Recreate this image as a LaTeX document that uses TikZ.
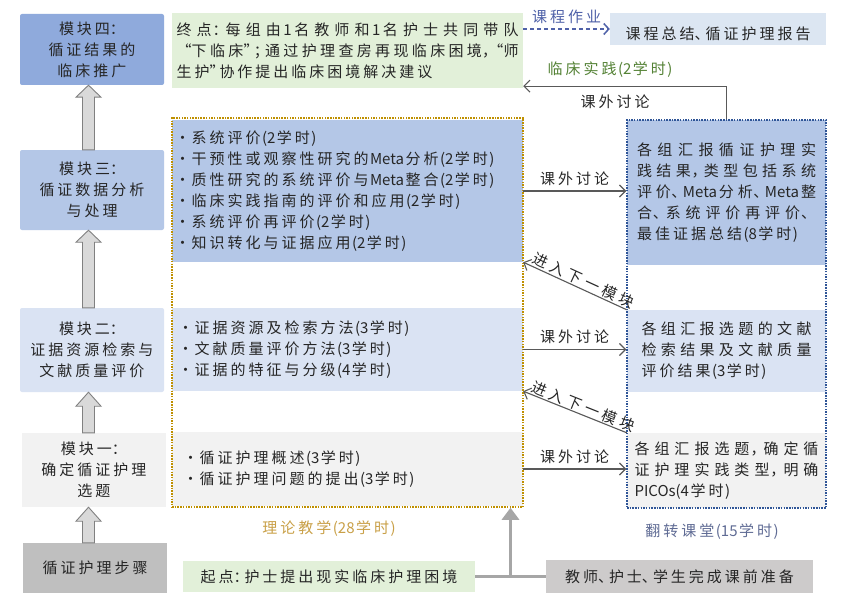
\documentclass[tikz,border=0pt]{standalone}
\usepackage{fontspec}
\setmainfont{Noto Sans CJK SC}
\usetikzlibrary{arrows.meta,calc}
\XeTeXinterchartokenstate=1
\newXeTeXintercharclass\cjkcls
\newXeTeXintercharclass\pcls
\newXeTeXintercharclass\qocls
\newXeTeXintercharclass\qccls
\newcount\cjkcnt
\cjkcnt="4E00
\loop\XeTeXcharclass\cjkcnt=\cjkcls\relax\advance\cjkcnt by 1\relax\ifnum\cjkcnt<"A000 \repeat
\XeTeXcharclass"3001=\pcls
\XeTeXcharclass"FF0C=\pcls
\XeTeXcharclass"FF1A=\pcls
\XeTeXcharclass"FF1B=\pcls
\XeTeXcharclass"201C=\qocls
\XeTeXcharclass"201D=\qccls
\XeTeXinterchartoks\cjkcls\cjkcls={\hskip 3pt plus 4pt minus 2pt\relax}
\XeTeXinterchartoks 0 \cjkcls={\hskip 1.5pt plus 2pt minus 1pt\relax}
\XeTeXinterchartoks\cjkcls 0 ={\hskip 1.5pt plus 2pt minus 1pt\relax}
\XeTeXinterchartoks\cjkcls\pcls={\hskip 0pt plus 2pt\relax}
\XeTeXinterchartoks\pcls\cjkcls={\hskip -4pt plus 4pt\relax}
\XeTeXinterchartoks\pcls 0 ={\hskip -4pt plus 2pt\relax}
\XeTeXinterchartoks\cjkcls\qocls={\hskip -5pt plus 2pt\relax}
\XeTeXinterchartoks\pcls\qocls={\hskip -9pt plus 2pt\relax}
\XeTeXinterchartoks\qocls\cjkcls={\hskip 0pt plus 2pt\relax}
\XeTeXinterchartoks\cjkcls\qccls={\hskip 0pt plus 2pt\relax}
\XeTeXinterchartoks\qccls\cjkcls={\hskip -5pt plus 2pt\relax}
\XeTeXinterchartoks\qccls\pcls={\hskip -5pt plus 2pt\relax}
\newcommand\fs{\fontsize{15pt}{21pt}\selectfont}
\newcommand\jl[2]{\leavevmode\hbox to #1{#2}}
\newcommand\lsp{\hspace{4pt}}
\definecolor{cfour}{HTML}{8FAADC}
\definecolor{cthree}{HTML}{B4C7E7}
\definecolor{ctwo}{HTML}{DAE3F3}
\definecolor{cone}{HTML}{F2F2F2}
\definecolor{cstep}{HTML}{BFBFBF}
\definecolor{cgreen}{HTML}{E2F0D9}
\definecolor{csum}{HTML}{DCE6F2}
\definecolor{cprep}{HTML}{CDCBCB}
\definecolor{corange}{HTML}{BF9000}
\definecolor{cblue}{HTML}{2F5597}
\definecolor{cgrayarrow}{HTML}{595959}
\definecolor{cbig}{HTML}{A6A6A6}
\definecolor{cblkfill}{HTML}{D9D9D9}
\definecolor{cblkdraw}{HTML}{808080}
\definecolor{cdash}{HTML}{4F61A8}
\definecolor{cgreentxt}{HTML}{548235}
\definecolor{corangetxt}{HTML}{C9A047}
\definecolor{cfliptxt}{HTML}{5F6B94}
\definecolor{ctxt}{HTML}{262626}
\tikzset{
  lbox/.style={minimum width=144pt, inner sep=0pt, align=center, text=ctxt},
  wide/.style={minimum width=351pt, align=left, text=ctxt},
  rfill/.style={minimum width=199pt, align=left, text=ctxt},
  blk/.style={fill=cblkfill, draw=cblkdraw, line width=0.9pt},
  garrow/.style={draw=cgrayarrow, line width=1.1pt, -{Straight Barb[length=6pt,width=12pt]}},
  garrowrev/.style={draw=cgrayarrow, line width=1.1pt, {Straight Barb[length=6pt,width=12pt]}-},
  dasharrow/.style={draw=cdash, line width=1.5pt, dash pattern=on 4pt off 3pt, -{Straight Barb[length=5pt,width=11pt]}},
  lab/.style={text=ctxt, inner sep=2pt}
}
\newcommand\blockup[3]{%
  \path[blk] let \p1=(#1.north), \p2=(#2.south) in
  (82.5pt,\y1) -- (82.5pt,{\y2-#3}) -- (76pt,{\y2-#3}) -- (88.5pt,\y2) -- (101pt,{\y2-#3}) -- (94.5pt,{\y2-#3}) -- (94.5pt,\y1) -- cycle;}
\begin{document}
\begin{tikzpicture}[x=1pt,y=-1pt,font=\fs]
\useasboundingbox (0,0) rectangle (844,602);
\fill[white] (0,0) rectangle (844,602);

% left column
\node[lbox, fill=cfour, rounded corners=2pt, minimum height=71pt] (m4) at (92,49.5) {模块四：\\循证结果的\\临床推广};
\node[lbox, fill=cthree, rounded corners=2pt, minimum height=80pt] (m3) at (92,190) {模块三：\\循证数据分析\\与处理};
\node[lbox, fill=ctwo, rounded corners=2pt, minimum height=84pt] (m2) at (92,350) {模块二：\\证据资源检索与\\文献质量评价};
\node[lbox, fill=cone, minimum height=74pt] (m1) at (94,470) {模块一：\\确定循证护理\\选题};
\node[lbox, fill=cstep, minimum height=50pt] (step0) at (95,568) {循证护理步骤};

\blockup{m3}{m4}{12pt}
\blockup{m2}{m3}{12pt}
\blockup{m1}{m2}{14pt}
\blockup{step0}{m1}{14pt}

% goal box
\node[wide, fill=cgreen, minimum height=75pt, inner xsep=4.5pt, inner ysep=0pt, text width=342pt] (goal) at (347.5,50.5)
  {\jl{342pt}{终点：每组由1名教师和1名护士共同带队}\\\jl{342pt}{“下临床”；通过护理查房再现临床困境，“师}\\生护”协作提出临床困境解决建议};

% summary
\node[fill=csum, minimum width=216pt, minimum height=32pt, inner sep=0pt] (sumbox) at (718,29) {};
\node[text=ctxt, inner sep=0pt] (sumtxt) at (718,34) {课程总结、循证护理报告};
\draw[dasharrow] (goal.east |- sumbox.west) -- (sumbox.west) node[midway, above=5pt, text=cdash, inner sep=0pt] (hwlab) {课程作业};

% theory column
\node[wide, fill=cthree, minimum height=142pt, inner xsep=3pt, inner ysep=0pt, text width=345pt] (t3) at (347.5,191)
  {·系统评价(2学时)\\·干预性或观察性研究的Meta分析(2学时)\\·质性研究的系统评价与Meta整合(2学时)\\·临床实践指南的评价和应用(2学时)\\·系统评价再评价(2学时)\\·知识转化与证据应用(2学时)};
\node[wide, fill=ctwo, minimum height=83pt, inner xsep=6pt, inner ysep=0pt, text width=339pt] (t2) at (347.5,349.5)
  {·证据资源及检索方法(3学时)\\·文献质量评价方法(3学时)\\·证据的特征与分级(4学时)};
\node[wide, fill=cone, minimum height=74pt, inner xsep=11pt, inner ysep=0pt, text width=329pt] (t1) at (347.5,469)
  {·循证护理概述(3学时)\\·循证护理问题的提出(3学时)};
\node[draw=corange, line width=1.5pt, dash pattern=on 1.5pt off 1.2pt, minimum width=351pt, minimum height=389pt, inner sep=0pt] (theory) at (347.5,312.5) {};

% flipped column
\node[rfill, fill=cthree, minimum height=145pt, inner xsep=10pt, inner ysep=0pt, text width=179pt] (r3) at (726.5,192.5)
  {\jl{179pt}{各组汇报循证护理实}\\\jl{179pt}{践结果，类型包括系统}\\\jl{179pt}{评价、Meta分析、Meta整}\\\jl{179pt}{合、系统评价再评价、}\\最佳证据总结(8学时)};
\node[rfill, fill=ctwo, minimum height=82pt, inner xsep=14.5pt, inner ysep=0pt, text width=170pt] (r2) at (726.5,351)
  {\jl{170pt}{各组汇报选题的文献}\\\jl{170pt}{检索结果及文献质量}\\评价结果(3学时)};
\node[rfill, fill=cone, minimum height=75pt, inner xsep=7.5pt, inner ysep=0pt, text width=184pt] (r1) at (726.5,470.5)
  {\jl{184pt}{各组汇报选题，确定循}\\\jl{184pt}{证护理实践类型，明确}\\PICOs(4学时)};
\node[draw=cblue, line width=1.5pt, dash pattern=on 1.5pt off 1.2pt, minimum width=199pt, minimum height=388pt, inner sep=0pt] (rbox) at (726.5,314) {};

% discussion arrows
\draw[garrow] (t3.east) -- (t3.east -| rbox.west) node[midway, above=3pt, lab] (d3) {课外讨论};
\draw[garrow] (t2.east) -- (t2.east -| rbox.west) node[midway, above=3pt, lab] (d2) {课外讨论};
\draw[garrow] (t1.east) -- (t1.east -| rbox.west) node[midway, above=3pt, lab] (d1) {课外讨论};

% next module arrows
\draw[garrowrev] (t3.south east) -- (r2.north west) node[pos=0.55, above=0pt, sloped, inner sep=1pt, text=ctxt] (n2) {进\lsp 入\lsp 下\lsp 一\lsp 模\lsp 块};
\draw[garrowrev] (t2.south east) -- (r1.north west) node[pos=0.55, above=0pt, sloped, inner sep=1pt, text=ctxt] (n1) {进\lsp 入\lsp 下\lsp 一\lsp 模\lsp 块};

% practice arrow
\draw[garrow] (rbox.north) |- ([yshift=2pt]goal.south east);
\node[lab] (d4) at (615,102) {课外讨论};
\node[text=cgreentxt, inner sep=0pt] (prac) at (610,70) {临床实践(2学时)};

% column captions
\node[text=corangetxt, inner sep=0pt] (thlab) at (329,529) {理论教学(28学时)};
\node[text=cfliptxt, inner sep=0pt] (fliplab) at (712,532) {翻转课堂(15学时)};

% bottom
\node[fill=cgreen, minimum width=292pt, minimum height=31pt, inner sep=0pt, text=ctxt] (start) at (329,576.5) {起点：护士提出现实临床护理困境};
\node[fill=cprep, minimum width=267pt, minimum height=33pt, inner sep=0pt, text=ctxt] (prep) at (679.5,576.5) {教师、护士、学生完成课前准备};
\draw[draw=cbig, line width=3pt] (start.east) -- (prep.west) coordinate[pos=0.5] (jn);
\draw[draw=cbig, fill=cbig, line width=3pt, -{Triangle[length=12pt,width=17pt]}] (jn) -- (jn |- theory.south);
\end{tikzpicture}
\end{document}
